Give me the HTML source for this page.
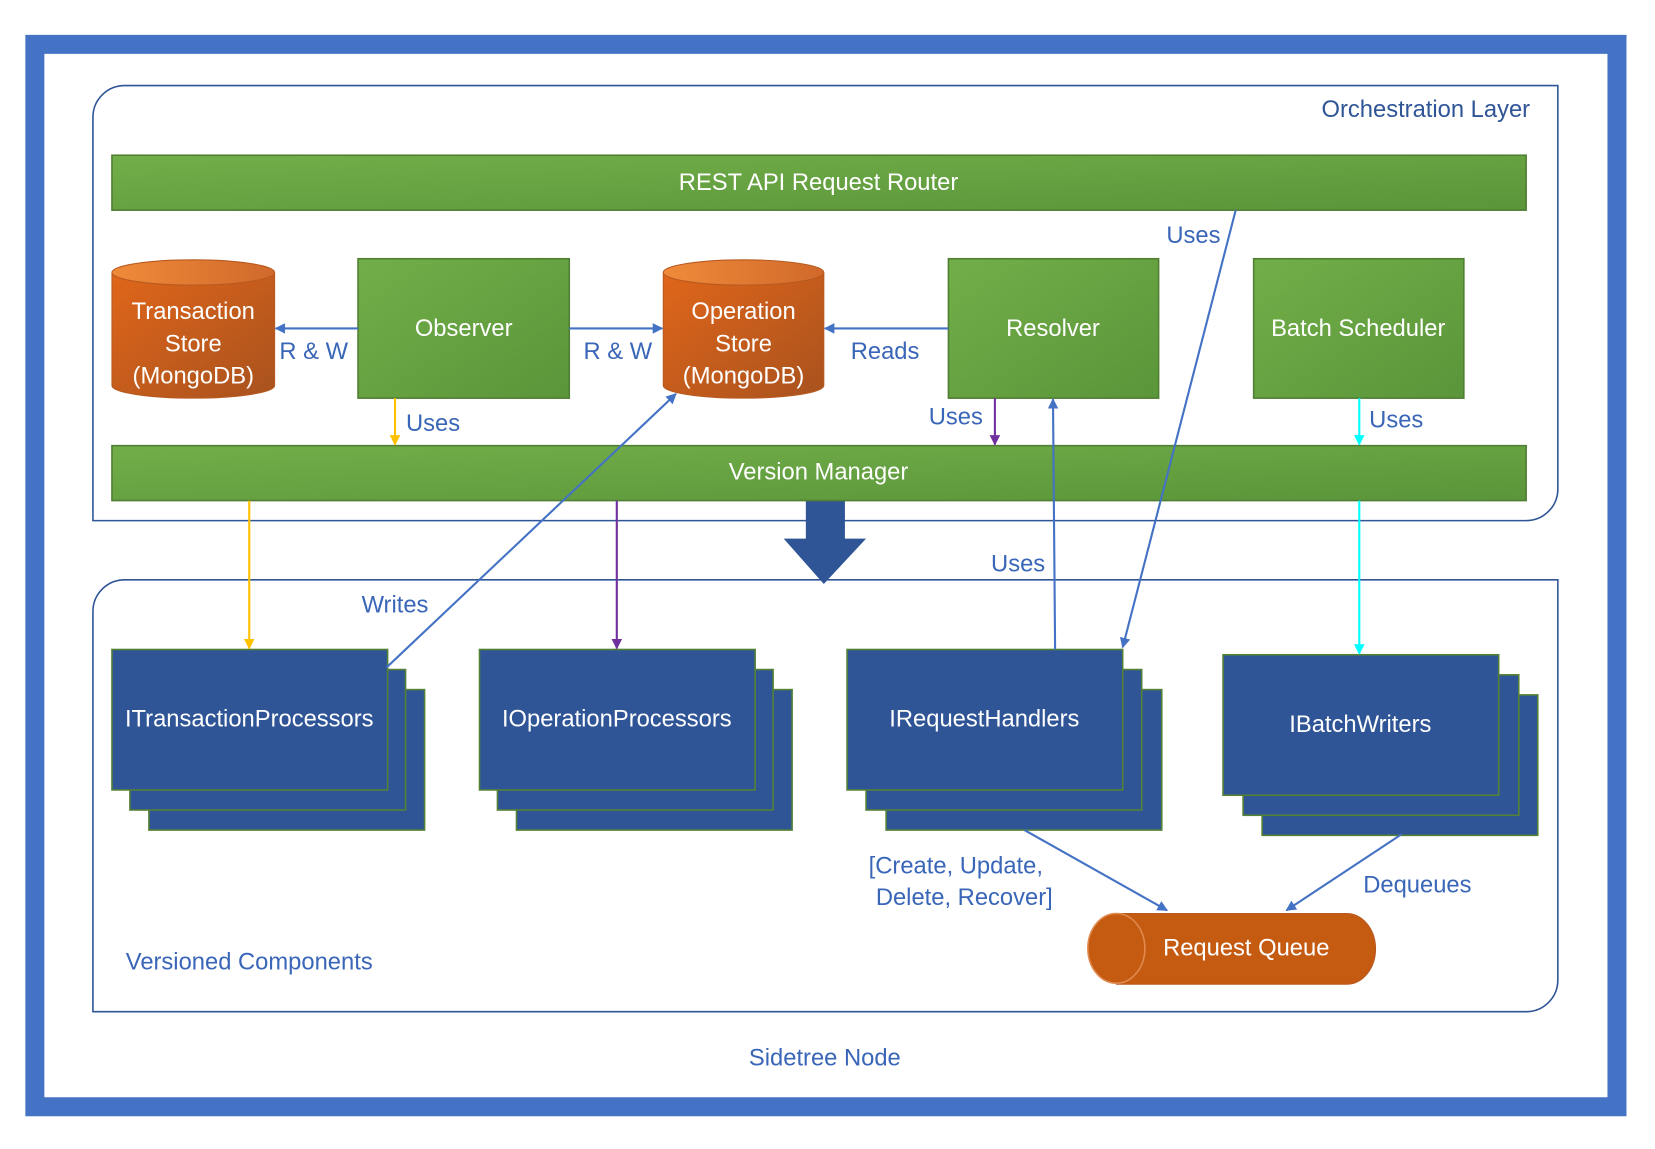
<!DOCTYPE html>
<html><head><meta charset="utf-8"><style>html,body{margin:0;padding:0;background:#fff}svg{display:block}text{font-family:"Liberation Sans",sans-serif}</style></head><body>
<svg width="1655" height="1149" viewBox="0 0 1567 1088" preserveAspectRatio="none" xmlns="http://www.w3.org/2000/svg">
<defs>
<linearGradient id="g" x1="0" y1="0" x2="1" y2="1"><stop offset="0" stop-color="#72AE48"/><stop offset="1" stop-color="#5A963A"/></linearGradient>
<linearGradient id="o" x1="0" y1="0" x2="1" y2="1"><stop offset="0" stop-color="#E0661A"/><stop offset="1" stop-color="#A8521E"/></linearGradient>
<linearGradient id="ot" x1="0" y1="0" x2="1" y2="0"><stop offset="0" stop-color="#F08A3A"/><stop offset="1" stop-color="#D0692A"/></linearGradient>
<marker id="ab" markerWidth="10" markerHeight="10" refX="9" refY="5" orient="auto" markerUnits="userSpaceOnUse"><path d="M0,0L10,5L0,10z" fill="#4472C4"/></marker>
<marker id="ay" markerWidth="10" markerHeight="10" refX="9" refY="5" orient="auto" markerUnits="userSpaceOnUse"><path d="M0,0L10,5L0,10z" fill="#FFC000"/></marker>
<marker id="ap" markerWidth="10" markerHeight="10" refX="9" refY="5" orient="auto" markerUnits="userSpaceOnUse"><path d="M0,0L10,5L0,10z" fill="#7030A0"/></marker>
<marker id="ac" markerWidth="10" markerHeight="10" refX="9" refY="5" orient="auto" markerUnits="userSpaceOnUse"><path d="M0,0L10,5L0,10z" fill="#00FFFF"/></marker>
</defs>
<rect x="24" y="33" width="1516" height="1024" fill="#4472C4"/>
<rect x="42" y="51" width="1480" height="988" fill="#fff"/>
<path d="M118,81H1475V463A30,30 0 0 1 1445,493H88V111A30,30 0 0 1 118,81Z" fill="none" stroke="#2F5597" stroke-width="1.5"/>
<path d="M118,549H1475V928A30,30 0 0 1 1445,958H88V579A30,30 0 0 1 118,549Z" fill="none" stroke="#2F5597" stroke-width="1.5"/>
<g font-size="22.5" fill="#2F5597">
<text x="1350" y="111" text-anchor="middle">Orchestration Layer</text>
</g>
<g font-size="22.5" fill="#3A66B8">
<text x="236" y="918" text-anchor="middle">Versioned Components</text>
<text x="781" y="1009" text-anchor="middle">Sidetree Node</text>
</g>
<path d="M763,474H800V510H820L780,553L742,510H763Z" fill="#2F5597"/>
<g stroke="#507E32" stroke-width="1.5" fill="url(#g)">
<rect x="106" y="147" width="1339" height="52"/>
<rect x="339" y="245" width="200" height="132"/>
<rect x="898" y="245" width="199" height="132"/>
<rect x="1187" y="245" width="199" height="132"/>
<rect x="106" y="422" width="1339" height="52"/>
</g>
<g font-size="22.5" fill="#fff" text-anchor="middle">
<text x="775" y="180">REST API Request Router</text>
<text x="439" y="318">Observer</text>
<text x="997" y="318">Resolver</text>
<text x="1286" y="318">Batch Scheduler</text>
<text x="775" y="454">Version Manager</text>
</g>
<g stroke="#B85A20" stroke-width="1">
<path d="M106,258V365A77,12 0 0 0 260,365V258Z" fill="url(#o)"/>
<ellipse cx="183" cy="258" rx="77" ry="12" fill="url(#ot)"/>
<path d="M628,258V365A76,12 0 0 0 780,365V258Z" fill="url(#o)"/>
<ellipse cx="704" cy="258" rx="76" ry="12" fill="url(#ot)"/>
</g>
<g font-size="22.5" fill="#fff" text-anchor="middle">
<text x="183" y="302">Transaction</text><text x="183" y="333">Store</text><text x="183" y="363">(MongoDB)</text>
<text x="704" y="302">Operation</text><text x="704" y="333">Store</text><text x="704" y="363">(MongoDB)</text>
</g>
<g fill="#2F5597" stroke="#548235" stroke-width="1.5">
<rect x="141" y="653" width="261" height="133"/><rect x="123" y="634" width="261" height="133"/><rect x="106" y="615" width="261" height="133"/>
<rect x="489" y="653" width="261" height="133"/><rect x="471" y="634" width="261" height="133"/><rect x="454" y="615" width="261" height="133"/>
<rect x="839" y="653" width="261" height="133"/><rect x="820" y="634" width="261" height="133"/><rect x="802" y="615" width="261" height="133"/>
<rect x="1195" y="658" width="261" height="133"/><rect x="1177" y="639" width="261" height="133"/><rect x="1158" y="620" width="261" height="133"/>
</g>
<g font-size="22.5" fill="#fff" text-anchor="middle">
<text x="236" y="688">ITransactionProcessors</text>
<text x="584" y="688">IOperationProcessors</text>
<text x="932" y="688">IRequestHandlers</text>
<text x="1288" y="693">IBatchWriters</text>
</g>
<path d="M1057,865H1275A27,33 0 0 1 1275,932H1057Z" fill="#C55A11" stroke="#B85A20"/>
<ellipse cx="1057" cy="898" rx="27" ry="33" fill="#C55A11" stroke="#E08A50" stroke-width="1.5"/>
<text x="1180" y="905" font-size="22.5" fill="#fff" text-anchor="middle">Request Queue</text>
<g stroke-width="2" fill="none">
<line x1="339" y1="311" x2="261" y2="311" stroke="#4472C4" marker-end="url(#ab)"/>
<line x1="539" y1="311" x2="627" y2="311" stroke="#4472C4" marker-end="url(#ab)"/>
<line x1="898" y1="311" x2="781" y2="311" stroke="#4472C4" marker-end="url(#ab)"/>
<line x1="374" y1="377" x2="374" y2="421" stroke="#FFC000" marker-end="url(#ay)"/>
<line x1="942" y1="377" x2="942" y2="421" stroke="#7030A0" marker-end="url(#ap)"/>
<line x1="1287" y1="377" x2="1287" y2="421" stroke="#00FFFF" marker-end="url(#ac)"/>
<line x1="1170" y1="199" x2="1063" y2="613" stroke="#4472C4" marker-end="url(#ab)"/>
<line x1="236" y1="474" x2="236" y2="614" stroke="#FFC000" marker-end="url(#ay)"/>
<line x1="584" y1="474" x2="584" y2="614" stroke="#7030A0" marker-end="url(#ap)"/>
<line x1="1287" y1="474" x2="1287" y2="619" stroke="#00FFFF" marker-end="url(#ac)"/>
<line x1="366" y1="632" x2="640" y2="373" stroke="#4472C4" marker-end="url(#ab)"/>
<line x1="999" y1="615" x2="997" y2="378" stroke="#4472C4" marker-end="url(#ab)"/>
<line x1="970" y1="786" x2="1105" y2="862" stroke="#4472C4" marker-end="url(#ab)"/>
<line x1="1327" y1="790" x2="1218" y2="862" stroke="#4472C4" marker-end="url(#ab)"/>
</g>
<g font-size="22.5" fill="#3A66B8" text-anchor="middle">
<text x="297" y="340">R &amp; W</text>
<text x="585" y="340">R &amp; W</text>
<text x="838" y="340">Reads</text>
<text x="410" y="408">Uses</text>
<text x="905" y="402">Uses</text>
<text x="1322" y="405">Uses</text>
<text x="1130" y="230">Uses</text>
<text x="374" y="580">Writes</text>
<text x="964" y="541">Uses</text>
<text x="905" y="827">[Create, Update,</text>
<text x="913" y="857">Delete, Recover]</text>
<text x="1342" y="845">Dequeues</text>
</g>
</svg>
</body></html>
